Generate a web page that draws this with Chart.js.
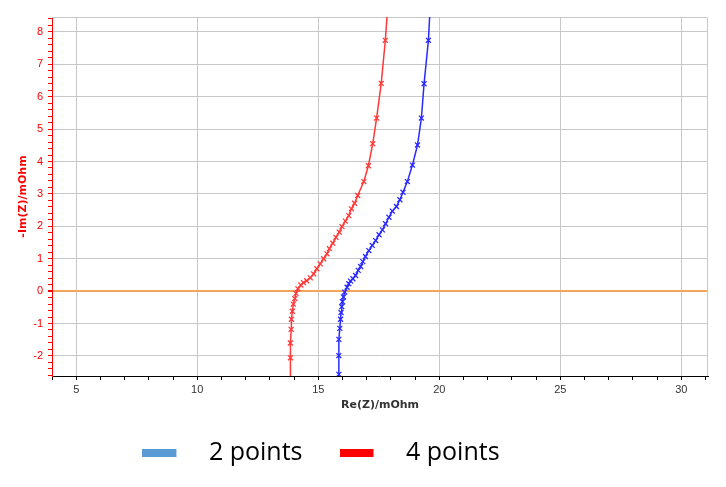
<!DOCTYPE html>
<html>
<head>
<meta charset="utf-8">
<script src="https://cdn.jsdelivr.net/npm/chart.js@4"></script>
<style>
  html, body { margin: 0; padding: 0; background: #fff; }
  #wrap { width: 726px; height: 487px; position: relative; }
</style>
</head>
<body>
<div id="wrap"><canvas id="myChart"></canvas></div>
<script>
// Nyquist data (mOhm)
const seriesNames = ['2 points', '4 points'];

const re2 = [15.85, 15.85, 15.85, 15.85, 15.89, 15.92, 15.94, 15.97, 16.00, 16.04, 16.09,
  16.19, 16.26, 16.33, 16.43, 16.54, 16.65, 16.75, 16.84, 16.95, 17.09, 17.23, 17.37,
  17.51, 17.65, 17.78, 17.92, 18.06, 18.23, 18.37, 18.50, 18.68, 18.89, 19.10, 19.26,
  19.37, 19.55, 19.68];
const im2 = [-3.00, -2.57, -1.99, -1.49, -1.15, -0.87, -0.66, -0.48, -0.33, -0.18, -0.03,
  0.12, 0.23, 0.31, 0.38, 0.48, 0.64, 0.76, 0.91, 1.07, 1.25, 1.41, 1.56,
  1.74, 1.89, 2.08, 2.28, 2.47, 2.61, 2.82, 3.05, 3.38, 3.89, 4.51, 5.34,
  6.40, 7.74, 9.60];

const re4 = [13.84, 13.85, 13.85, 13.88, 13.89, 13.93, 13.97, 14.03, 14.08, 14.16, 14.28,
  14.39, 14.52, 14.67, 14.81, 14.94, 15.08, 15.22, 15.36, 15.46, 15.60, 15.73, 15.87,
  15.98, 16.12, 16.26, 16.37, 16.50, 16.63, 16.88, 17.07, 17.25, 17.41, 17.60, 17.77, 17.95];
const im4 = [-2.90, -2.06, -1.60, -1.18, -0.87, -0.62, -0.40, -0.23, -0.07, 0.07, 0.19,
  0.26, 0.32, 0.41, 0.53, 0.69, 0.84, 1.00, 1.15, 1.31, 1.48, 1.66, 1.82,
  1.99, 2.16, 2.33, 2.54, 2.71, 2.95, 3.38, 3.87, 4.55, 5.34, 6.41, 7.74, 9.60];

const xMin = 4, xMax = 31.1;
const yMin = -2.62, yMax = 8.46;

const lineColors = ['#2a2aff', '#ff3838'];
const legendColors = ['#5b9bd5', '#ff0000'];

function toPoints(xs, ys) {
  return xs.map((x, i) => ({ x: x, y: ys[i] }));
}

// legend swatch: a flat bar with blank space after it
function swatch(color) {
  const c = document.createElement('canvas');
  c.width = 54; c.height = 8;
  const g = c.getContext('2d');
  g.fillStyle = color;
  g.fillRect(0, 0, 34, 8);
  return c;
}
const swatches = legendColors.map(swatch);

const isInt = v => Math.abs(v - Math.round(v)) < 1e-6;

const frame = {
  id: 'frame',
  afterUpdate(chart) {
    // the legend sits left of centre in the original
    const l = chart.legend;
    l.left -= 33; l.right -= 33;
    l.top -= 12; l.bottom -= 12;
  },
  beforeDatasetsDraw(chart) {
    const a = chart.chartArea, ctx = chart.ctx;
    ctx.save();
    ctx.strokeStyle = '#c8c8c8';
    ctx.lineWidth = 1;
    ctx.beginPath();
    ctx.moveTo(a.left, a.top + 0.5);
    ctx.lineTo(a.right - 0.5, a.top + 0.5);
    ctx.lineTo(a.right - 0.5, a.bottom);
    ctx.stroke();
    ctx.restore();
  }
};

const tickFont = { family: 'Liberation Sans', size: 11 };
const titleFont = { family: 'DejaVu Sans', size: 11, weight: 'bold' };

function series(i, pts) {
  return {
    label: seriesNames[i],
    data: pts,
    borderColor: lineColors[i],
    backgroundColor: lineColors[i],
    borderWidth: 1.5,
    pointStyle: 'crossRot',
    pointRadius: 3.5,
    pointBorderWidth: 1.3,
    tension: 0
  };
}

new Chart(document.getElementById('myChart'), {
  type: 'line',
  data: {
    datasets: [series(0, toPoints(re2, im2)), series(1, toPoints(re4, im4))]
  },
  options: {
    responsive: true,
    maintainAspectRatio: false,
    animation: false,
    layout: { padding: { top: 17, right: 18, left: 0, bottom: 0 } },
    plugins: {
      tooltip: { enabled: false },
      legend: {
        position: 'bottom',
        labels: {
          usePointStyle: true,
          pointStyleWidth: 54,
          padding: 37,
          color: '#000',
          font: { family: 'Open Sans', size: 25 },
          generateLabels: chart => chart.data.datasets.map((ds, i) => ({
            text: ds.label,
            pointStyle: swatches[i],
            fillStyle: legendColors[i],
            strokeStyle: legendColors[i],
            lineWidth: 0,
            fontColor: '#000',
            datasetIndex: i
          }))
        }
      }
    },
    scales: {
      x: {
        type: 'linear',
        min: xMin,
        max: xMax,
        afterFit: s => { s.height = 39; },
        border: { color: '#000', width: 1 },
        grid: {
          color: c => (c.tick && isInt(c.tick.value / 5)) ? '#c8c8c8' : 'rgba(0,0,0,0)',
          tickColor: '#000',
          tickLength: 4,
          lineWidth: 1
        },
        ticks: {
          stepSize: 1,
          autoSkip: false,
          includeBounds: false,
          maxRotation: 0,
          color: '#333',
          font: tickFont,
          padding: 3,
          callback: v => isInt(v / 5) ? String(Math.round(v)) : ''
        },
        title: {
          display: true,
          text: 'Re(Z)/mOhm',
          color: '#333',
          font: titleFont,
          padding: { top: 0, bottom: 3 }
        }
      },
      y: {
        type: 'linear',
        min: yMin,
        max: yMax,
        afterFit: s => { s.width = 52; },
        border: { color: '#ff0000', width: 1 },
        grid: {
          color: c => {
            if (!c.tick || !isInt(c.tick.value)) return 'rgba(0,0,0,0)';
            return Math.round(c.tick.value) === 0 ? '#f5a55a' : '#c8c8c8';
          },
          lineWidth: c => (c.tick && Math.abs(c.tick.value) < 1e-6) ? 2 : 1,
          tickColor: '#ff0000',
          tickLength: 4
        },
        ticks: {
          stepSize: 0.2,
          autoSkip: false,
          includeBounds: false,
          color: '#ff0000',
          font: tickFont,
          padding: 5,
          callback: v => isInt(v) ? String(Math.round(v)) : ''
        },
        title: {
          display: true,
          text: '-Im(Z)/mOhm',
          color: '#ff0000',
          font: titleFont,
          padding: { top: 17, bottom: 0 }
        }
      }
    }
  },
  plugins: [frame]
});
</script>
</body>
</html>
